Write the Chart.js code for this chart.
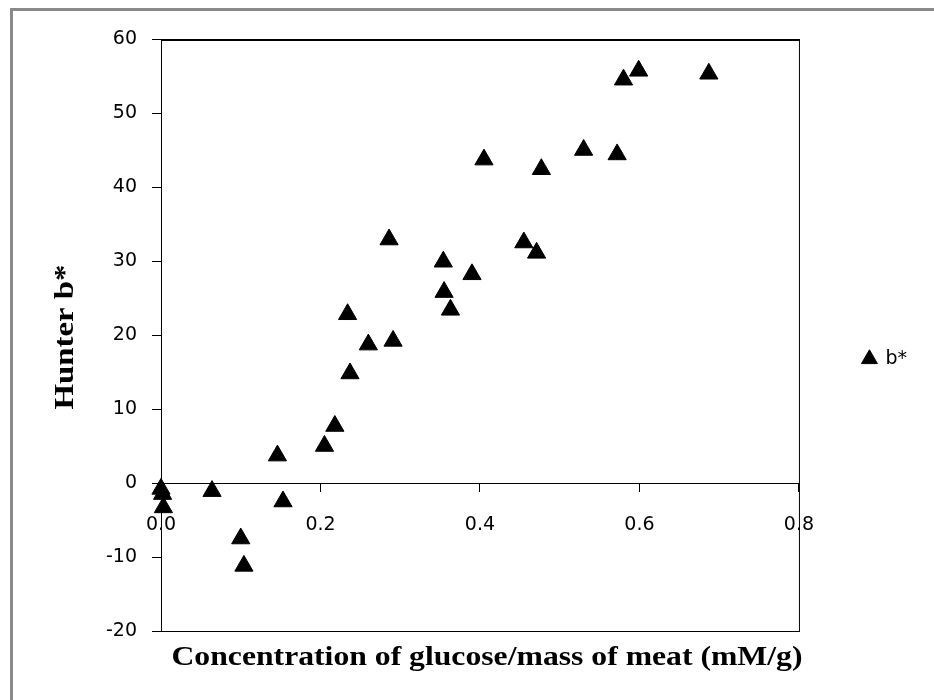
<!DOCTYPE html>
<html>
<head>
<meta charset="utf-8">
<script src="https://cdn.jsdelivr.net/npm/chart.js@4.4.1/dist/chart.umd.min.js"></script>
<style>
    body { margin: 0; background: #fff; }
</style>
</head>
<body>
<canvas id="myChart" width="934" height="700"></canvas>
<script>
// values
var concentration = [0.000, 0.002, 0.003, 0.064, 0.100, 0.104, 0.146, 0.153, 0.205, 0.218,
    0.234, 0.237, 0.260, 0.286, 0.291, 0.354, 0.355, 0.363, 0.390, 0.405,
    0.455, 0.471, 0.477, 0.530, 0.572, 0.580, 0.599, 0.687];
var hunterB = [-0.8, -1.5, -3.3, -1.1, -7.5, -11.2, 3.7, -2.5, 5.0, 7.7,
    22.8, 14.8, 18.7, 32.9, 19.2, 29.9, 25.8, 23.4, 28.2, 43.7,
    32.5, 31.1, 42.4, 45.0, 44.4, 54.5, 55.7, 55.3];
var xTicks = [0, 0.2, 0.4, 0.6, 0.8];
var yTicks = [-20, -10, 0, 10, 20, 30, 40, 50, 60];
var seriesName = 'b*';
var xTitle = 'Concentration of glucose/mass of meat (mM/g)';
var yTitle = 'Hunter b*';

var tickFont = { family: '"DejaVu Sans", Verdana, sans-serif', size: 19 };

// squeeze/stretch a bold serif title so it covers the same length as in the picture
function drawFitted(ctx, text, cx, cy, width) {
    ctx.save();
    ctx.font = 'bold 28px "Liberation Serif", "Times New Roman", serif';
    var w = ctx.measureText(text).width;
    ctx.translate(cx, cy);
    ctx.scale(width / w, 1);
    ctx.fillStyle = '#000';
    ctx.textAlign = 'center';
    ctx.textBaseline = 'middle';
    ctx.fillText(text, 0, 0);
    ctx.restore();
}

var decorations = {
    id: 'decorations',
    beforeDraw: function (chart) {
        var ctx = chart.ctx;
        ctx.save();
        ctx.fillStyle = '#fff';
        ctx.fillRect(0, 0, chart.width, chart.height);
        ctx.strokeStyle = '#8a8a8a';
        ctx.lineWidth = 3;
        ctx.strokeRect(11.5, 9.5, chart.width, chart.height);
        ctx.restore();
    },
    afterDraw: function (chart) {
        var ctx = chart.ctx;
        var a = chart.chartArea;
        ctx.save();
        ctx.strokeStyle = '#000';
        ctx.lineWidth = 1;
        ctx.strokeRect(a.left + 0.5, a.top + 0.5, a.right - a.left, a.bottom - a.top);
        ctx.lineWidth = 2;
        ctx.beginPath();
        ctx.moveTo(a.left, a.top + 1);
        ctx.lineTo(a.right + 1, a.top + 1);
        ctx.stroke();
        ctx.restore();

        drawFitted(ctx, xTitle, (a.left + a.right) / 2 + 7, a.bottom + 27, 631);

        ctx.save();
        ctx.translate(66, (a.top + a.bottom) / 2 + 2);
        ctx.rotate(-Math.PI / 2);
        drawFitted(ctx, yTitle, 0, 0, 145);
        ctx.restore();
    }
};

var points = concentration.map(function (x, i) {
    return { x: x, y: hunterB[i] };
});

var ctx = document.getElementById('myChart').getContext('2d');
var chart = new Chart(ctx, {
    type: 'scatter',
    data: {
        datasets: [{
            label: seriesName,
            data: points,
            clip: false,
            pointStyle: 'triangle',
            pointRadius: 10.5,
            pointBorderWidth: 1,
            backgroundColor: '#000',
            borderColor: '#000'
        }]
    },
    options: {
        responsive: false,
        animation: false,
        layout: { padding: { left: 0, top: 39, right: 17, bottom: 69 } },
        plugins: {
            legend: {
                position: 'right',
                title: { display: true, text: ' ', font: { size: 40 }, padding: 0 },
                labels: {
                    usePointStyle: true,
                    boxWidth: 13,
                    boxHeight: 13,
                    padding: 44,
                    color: '#000',
                    font: tickFont
                }
            },
            tooltip: { enabled: false }
        },
        scales: {
            x: {
                type: 'linear',
                position: { y: 0 },
                min: 0,
                max: 0.8,
                afterBuildTicks: function (scale) {
                    scale.ticks = xTicks.map(function (v) { return { value: v }; });
                },
                ticks: {
                    padding: 23,
                    color: '#000',
                    font: tickFont,
                    callback: function (v) { return Number(v).toFixed(1); }
                },
                grid: { drawOnChartArea: false, tickLength: 8, color: '#000' },
                border: { color: '#000', width: 1 }
            },
            y: {
                min: -20,
                max: 60,
                afterBuildTicks: function (scale) {
                    scale.ticks = yTicks.map(function (v) { return { value: v }; });
                },
                afterFit: function (scale) { scale.width = 161; },
                ticks: { padding: 15, color: '#000', font: tickFont },
                grid: { drawOnChartArea: false, tickLength: 9, color: '#000' },
                border: { color: '#000', width: 1 }
            },
            gap: {
                position: 'right',
                display: true,
                ticks: { display: false },
                grid: { display: false },
                border: { display: false },
                afterFit: function (scale) { scale.width = 20; }
            }
        }
    },
    plugins: [decorations]
});
</script>
</body>
</html>
